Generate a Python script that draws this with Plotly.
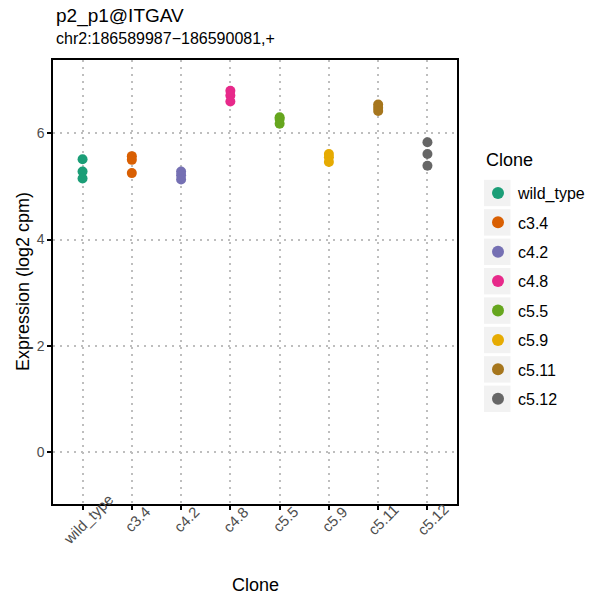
import plotly.graph_objects as go

clones = ["wild_type", "c3.4", "c4.2", "c4.8", "c5.5", "c5.9", "c5.11", "c5.12"]
colors = ["#1B9E77", "#D95F02", "#7570B3", "#E7298A", "#66A61E", "#E6AB02", "#A6761D", "#666666"]

wild_type = [5.51, 5.28, 5.15]
c3_4 = [5.57, 5.50, 5.25]
c4_2 = [5.28, 5.21, 5.13]
c4_8 = [6.80, 6.71, 6.60]
c5_5 = [6.30, 6.27, 6.18]
c5_9 = [5.61, 5.55, 5.46]
c5_11 = [6.54, 6.48, 6.42]
c5_12 = [5.83, 5.61, 5.39]
values = [wild_type, c3_4, c4_2, c4_8, c5_5, c5_9, c5_11, c5_12]

y_ticks = [0, 2, 4, 6]

title_text = "p2_p1@ITGAV"
subtitle_text = "chr2:186589987\u2212186590081,+"
x_title = "Clone"
y_title = "Expression (log2 cpm)"
legend_title = "Clone"

font_family = "Liberation Sans, Arial, sans-serif"

# layout geometry (pixels)
W, H = 595, 602
ML, MR, MT, MB = 53, 138, 60, 98
PW, PH = W - ML - MR, H - MT - MB


def px_x(p):
    return (p - ML) / PW


def px_y(p):
    return (H - MB - p) / PH


fig = go.Figure()
for name, col, vals in zip(clones, colors, values):
    fig.add_trace(go.Scatter(
        x=[name] * len(vals), y=vals, mode="markers", name=name,
        legendgroup=name,
        marker=dict(color=col, size=10, line=dict(width=0)),
    ))

annotations = [
    dict(text=title_text, xref="paper", yref="paper", x=px_x(54), y=px_y(16.5),
         xanchor="left", yanchor="middle", showarrow=False,
         font=dict(size=19, color="black")),
    dict(text=subtitle_text, xref="paper", yref="paper", x=px_x(54), y=px_y(38),
         xanchor="left", yanchor="middle", showarrow=False,
         font=dict(size=16, color="black")),
    dict(text=x_title, xref="paper", yref="paper", x=0.5, y=px_y(585),
         xanchor="center", yanchor="middle", showarrow=False,
         font=dict(size=18, color="black")),
    dict(text=y_title, xref="paper", yref="paper", x=px_x(23), y=0.5,
         xanchor="center", yanchor="middle", showarrow=False, textangle=-90,
         font=dict(size=18, color="black")),
    dict(text=legend_title, xref="paper", yref="paper", x=px_x(484), y=px_y(160),
         xanchor="left", yanchor="middle", showarrow=False,
         font=dict(size=18, color="black")),
]
# x tick labels (rotated, centred under each tick)
for name in clones:
    annotations.append(dict(
        text=name, xref="x", yref="paper", x=name, y=px_y(519), xshift=5,
        xanchor="center", yanchor="middle", showarrow=False, textangle=-45,
        font=dict(size=15, color="#4D4D4D")))

# grey legend key backgrounds
shapes = []
for i in range(len(clones)):
    yc = 193 + i * 29.4
    shapes.append(dict(type="rect", xref="paper", yref="paper", layer="below",
                       x0=px_x(484), x1=px_x(510.5), y0=px_y(yc - 13.2), y1=px_y(yc + 13.2),
                       fillcolor="#F2F2F2", line=dict(width=0)))

fig.update_layout(
    width=W, height=H,
    margin=dict(l=ML, r=MR, t=MT, b=MB, autoexpand=False),
    paper_bgcolor="white", plot_bgcolor="white",
    font=dict(family=font_family, color="black"),
    showlegend=True,
    legend=dict(
        font=dict(size=16, color="black"),
        x=px_x(478), xanchor="left", y=px_y(176), yanchor="top",
        tracegroupgap=5.6, itemsizing="constant", bgcolor="rgba(0,0,0,0)",
    ),
    annotations=annotations,
    shapes=shapes,
)

fig.update_xaxes(
    type="category", categoryorder="array", categoryarray=clones,
    range=[-0.6, 7.6], automargin=False,
    showline=True, linecolor="black", linewidth=1.5, mirror=True,
    ticks="outside", ticklen=4, tickwidth=1.5, tickcolor="black",
    showticklabels=False,
    showgrid=True, gridcolor="#BEBEBE", gridwidth=2, griddash="2px,5px",
    zeroline=False,
)
fig.update_yaxes(
    range=[-0.98, 7.38], tickvals=y_ticks, automargin=False,
    showline=True, linecolor="black", linewidth=1.5, mirror=True,
    ticks="outside", ticklen=4, tickwidth=1.5, tickcolor="black",
    tickfont=dict(size=14, color="#4D4D4D"),
    showgrid=True, gridcolor="#BEBEBE", gridwidth=2, griddash="2px,5px",
    zeroline=False,
)

fig.write_html("out.html")
